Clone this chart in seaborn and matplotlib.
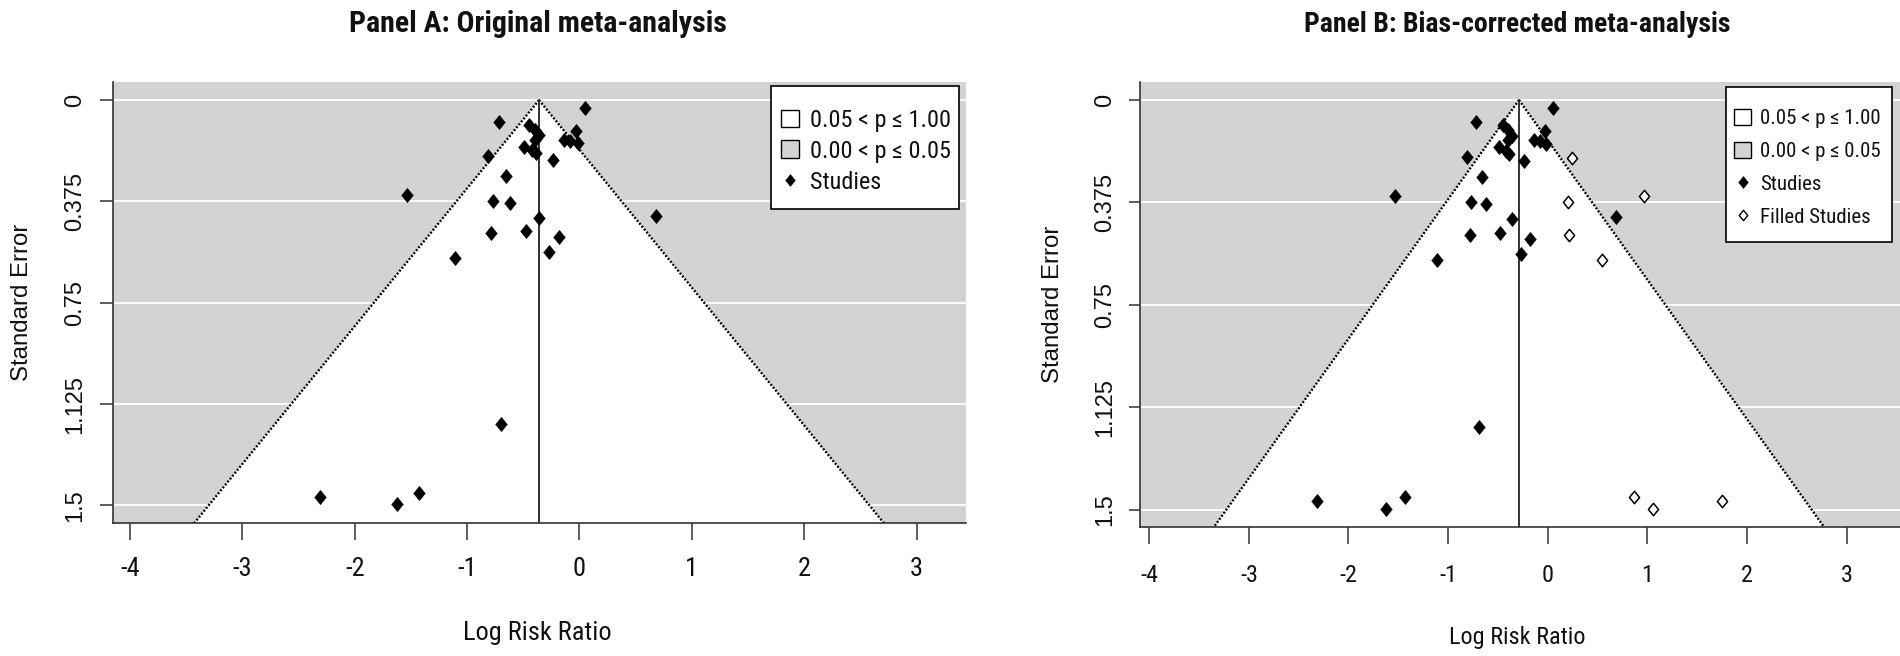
import matplotlib
matplotlib.use("Agg")
import matplotlib.pyplot as plt
import seaborn as sns
import pandas as pd
from matplotlib.path import Path
from matplotlib.patches import Patch, Polygon, Rectangle
from matplotlib.lines import Line2D
from matplotlib import font_manager

# ---------------- data ----------------
study_lrr = [0.05, -0.72, -0.447, -0.40, -0.36, -0.40, -0.49, -0.42, -0.39,
             -0.032, -0.140, -0.080, -0.015, -0.815, -0.240, -0.655, -1.535,
             -0.770, -0.620, -0.357, 0.684, -0.784, -0.478, -0.180, -0.272,
             -1.108, -0.694, -2.313, -1.622, -1.430]
study_se = [0.031, 0.080, 0.093, 0.110, 0.130, 0.148, 0.173, 0.185, 0.196,
            0.115, 0.146, 0.151, 0.160, 0.208, 0.222, 0.281, 0.352,
            0.373, 0.380, 0.435, 0.429, 0.493, 0.486, 0.507, 0.564,
            0.586, 1.197, 1.468, 1.496, 1.453]
filled_lrr = [0.245, 0.200, 0.214, 0.541, 0.967, 0.864, 1.056, 1.747]
filled_se = [0.211, 0.374, 0.494, 0.587, 0.351, 1.451, 1.497, 1.467]

est_original = -0.36
est_corrected = -0.288
z_crit = 1.96

x_ticks = [-4, -3, -2, -1, 0, 1, 2, 3]
y_ticks = [0, 0.375, 0.75, 1.125, 1.5]
y_tick_labels = ["0", "0.375", "0.75", "1.125", "1.5"]
legend_labels = ["0.05 < p \u2264 1.00", "0.00 < p \u2264 0.05", "Studies", "Filled Studies"]
titles = ["Panel A: Original meta-analysis", "Panel B: Bias-corrected meta-analysis"]
x_label = "Log Risk Ratio"
y_label = "Standard Error"

studies = pd.DataFrame({"lrr": study_lrr, "se": study_se})
filled = pd.DataFrame({"lrr": filled_lrr, "se": filled_se})

# ---------------- style ----------------
sns.set_style("white")
names = {f.name for f in font_manager.fontManager.ttflist}
narrow = "DejaVu Sans"
for cand in ["Roboto Condensed", "Archivo Narrow", "PT Sans Narrow", "Liberation Sans"]:
    if cand in names:
        narrow = cand
        break
plt.rcParams["font.family"] = [narrow, "DejaVu Sans"]
plt.rcParams["axes.unicode_minus"] = False
regular = ["Liberation Sans", "DejaVu Sans"]

GRAY = "#D3D3D3"
TXT = "#111111"
W, H = 1900, 656
fig = plt.figure(figsize=(W / 100, H / 100), dpi=100)

diamond = Path([(0, 1), (0.82, 0), (0, -1), (-0.82, 0), (0, 1)],
               [Path.MOVETO, Path.LINETO, Path.LINETO, Path.LINETO, Path.CLOSEPOLY])


def add_px_axes(l, r, t, b):
    return fig.add_axes([l / W, 1 - b / H, (r - l) / W, (b - t) / H])


panels = [
    dict(box=(112.5, 966, 81.7, 522.7), xlim=(-4.155, 3.439), ylim=(1.564, -0.068),
         est=est_original, filled=False, title_x=538, title_y=24, title_fs=21.5,
         tick_fs=19, xlab=(0.4976, -0.250), ylab=(-0.1057, 0.5),
         xtick_len=12, ytick_len=9.6, xpad=12.5, ypad=9.6,
         leg_frame=(771.4, 86, 958.7, 209.3), leg_x=781.4, leg_top=109,
         leg_fs=17.5, leg_hl=0.74, leg_tp=0.45, leg_ls=0.32),
    dict(box=(1140, 1902, 81.6, 526.5), xlim=(-4.093, 3.557), ylim=(1.5606, -0.0673),
         est=est_corrected, filled=True, title_x=1517, title_y=24, title_fs=20,
         tick_fs=17.5, xlab=(0.495, -0.2506), ylab=(-0.114, 0.5),
         xtick_len=12.5, ytick_len=8, xpad=14.5, ypad=8.9,
         leg_frame=(1725.7, 86.6, 1892, 241.8), leg_x=1734, leg_top=109,
         leg_fs=15, leg_hl=0.82, leg_tp=0.43, leg_ls=0.65),
]

for i, p in enumerate(panels):
    ax = add_px_axes(*p["box"])
    ax.set_facecolor(GRAY)
    ax.set_xlim(*p["xlim"])
    ax.set_ylim(*p["ylim"])
    ybot = p["ylim"][0]
    est = p["est"]

    ax.set_axisbelow(True)
    ax.set_yticks(y_ticks)
    ax.set_yticklabels(y_tick_labels)
    ax.set_xticks(x_ticks)
    ax.grid(axis="y", color="white", lw=1.3)
    ax.grid(axis="x", visible=False)

    # funnel region (non-significant area) and its dotted limits
    yb = ybot + 0.2
    tri = Polygon([(est, 0), (est - z_crit * yb, yb), (est + z_crit * yb, yb)],
                  closed=True, facecolor="white", edgecolor="none", zorder=1)
    ax.add_patch(tri)
    for sgn in (-1, 1):
        ax.plot([est, est + sgn * z_crit * yb], [0, yb], color="black", lw=1.7,
                dashes=(0.8, 0.8), zorder=2)
    ax.plot([est, est], [0, yb], color="#222222", lw=1.3, zorder=2)

    # points
    sns.scatterplot(data=studies, x="lrr", y="se", ax=ax, marker=diamond, s=104,
                    color="black", edgecolor="black", linewidth=0.4, zorder=3,
                    legend=False)
    if p["filled"]:
        sns.scatterplot(data=filled, x="lrr", y="se", ax=ax, marker=diamond, s=80,
                        facecolor="white", edgecolor="black", linewidth=1.1,
                        zorder=3, legend=False)

    # axes styling
    sns.despine(ax=ax)
    for side in ("left", "bottom"):
        ax.spines[side].set_color("#333333")
        ax.spines[side].set_linewidth(1.2)
    ax.tick_params(axis="x", length=p["xtick_len"], width=1.1, color="#333333",
                   direction="out", pad=p["xpad"], labelsize=p["tick_fs"],
                   labelcolor=TXT, bottom=True)
    ax.tick_params(axis="y", length=p["ytick_len"], width=1.1, color="#333333",
                   direction="out", pad=p["ypad"], labelsize=17, labelcolor=TXT,
                   left=True)
    for lab in ax.get_yticklabels():
        lab.set_rotation(90)
        lab.set_va("center")
        lab.set_family(regular)

    ax.set_xlabel(x_label, fontsize=p["tick_fs"], color=TXT)
    ax.xaxis.label.set_va("center")
    ax.xaxis.set_label_coords(*p["xlab"])
    ax.set_ylabel(y_label, fontsize=17.3, color=TXT, family=regular)
    ax.yaxis.label.set_va("center")
    ax.yaxis.set_label_coords(*p["ylab"])

    fig.text(p["title_x"] / W, 1 - p["title_y"] / H, titles[i], ha="center",
             va="center", fontsize=p["title_fs"], fontweight="bold", color=TXT)

    # legend: frame drawn as a box, entries as a frameless legend inside it
    fl, ft, fr, fb = p["leg_frame"]
    fig.patches.append(Rectangle((fl / W, 1 - fb / H), (fr - fl) / W, (fb - ft) / H,
                                 transform=fig.transFigure, facecolor="white",
                                 edgecolor="black", lw=1.2, zorder=4))
    handles = [Patch(facecolor="white", edgecolor="black", lw=1.0),
               Patch(facecolor=GRAY, edgecolor="black", lw=1.0),
               Line2D([], [], marker=diamond, color="black", linestyle="none",
                      markersize=8.5, markeredgewidth=0.4)]
    labels = legend_labels[:3]
    if p["filled"]:
        handles.append(Line2D([], [], marker=diamond, markerfacecolor="white",
                              markeredgecolor="black", linestyle="none",
                              markersize=7.5, markeredgewidth=1.0))
        labels = legend_labels[:4]
    leg = fig.legend(handles, labels, loc="upper left",
                     bbox_to_anchor=(p["leg_x"] / W, 1 - p["leg_top"] / H),
                     bbox_transform=fig.transFigure, borderaxespad=0, borderpad=0,
                     frameon=False, fontsize=p["leg_fs"],
                     handlelength=p["leg_hl"], handleheight=p["leg_hl"],
                     handletextpad=p["leg_tp"], labelspacing=p["leg_ls"],
                     labelcolor=TXT)
    leg.set_zorder(6)

fig.savefig("out.png", dpi=100, facecolor="white")
